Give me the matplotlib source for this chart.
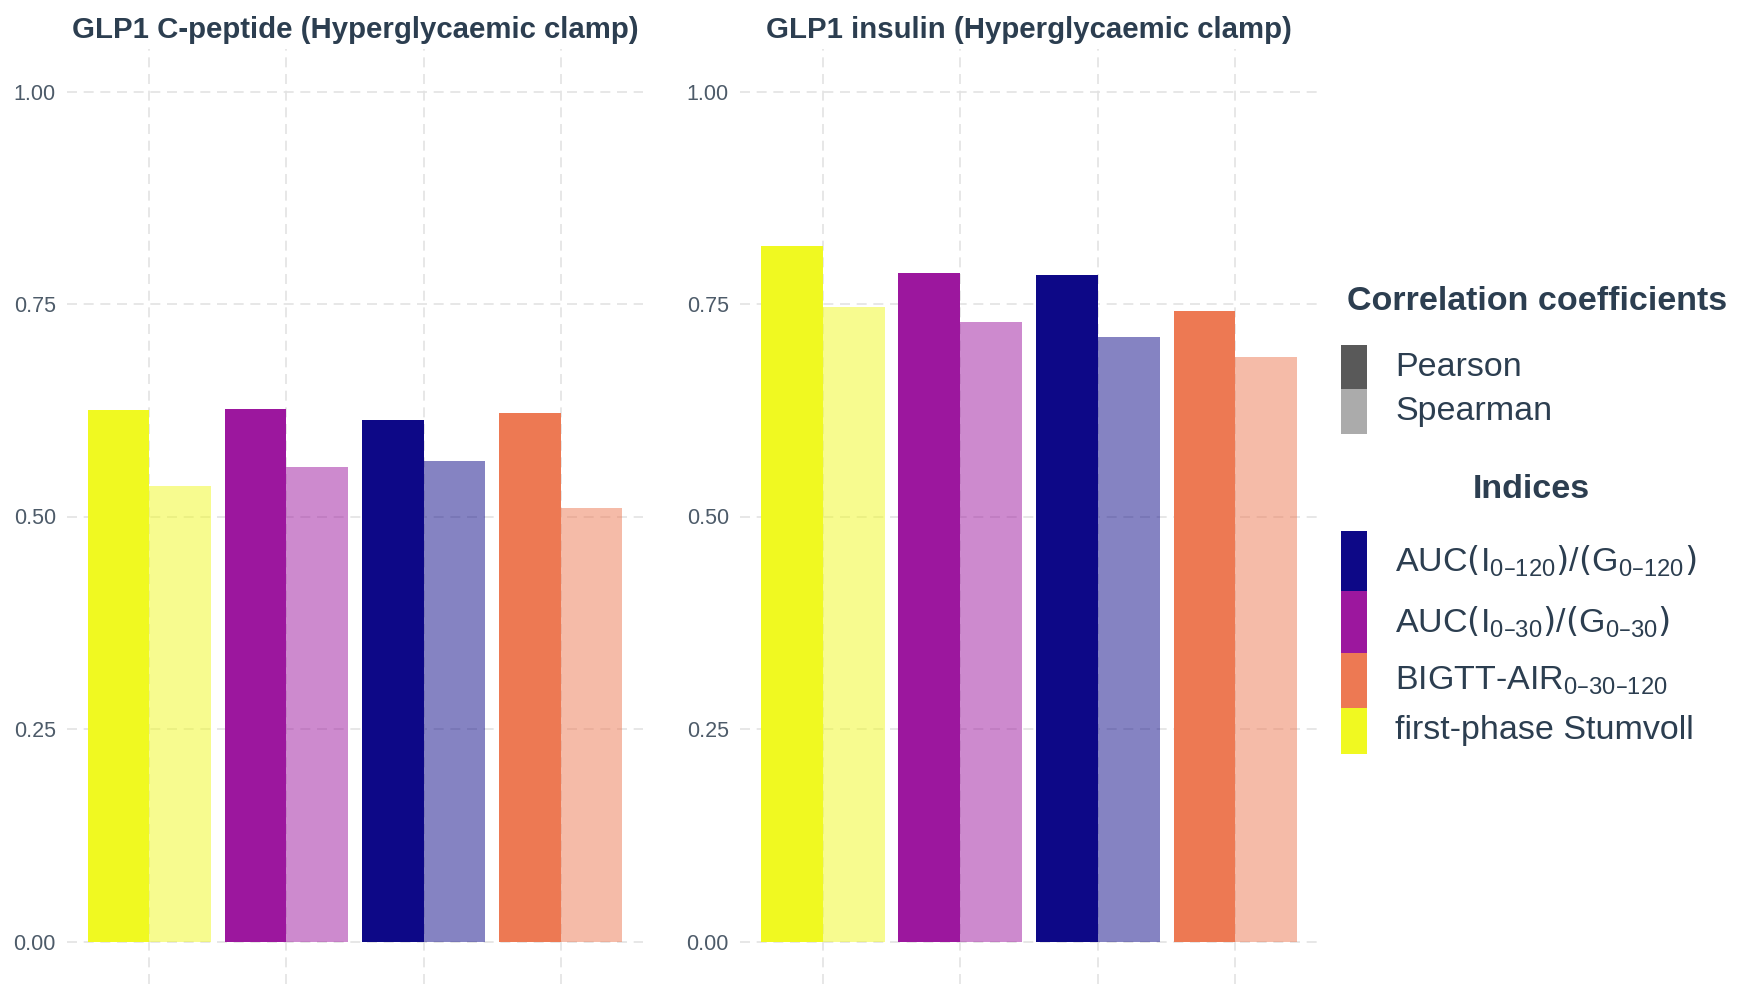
import numpy as np
import matplotlib
matplotlib.use("Agg")
import matplotlib.pyplot as plt
from matplotlib.patches import Rectangle

plt.rcParams['font.family'] = ['Liberation Sans', 'DejaVu Sans']
plt.rcParams['mathtext.default'] = 'regular'

# data
categories = ["first-phase Stumvoll", "AUC 0-30", "AUC 0-120", "BIGTT-AIR"]
colors = ["#F0F921", "#9C179E", "#0D0887", "#ED7953"]
titles = ["GLP1 C-peptide (Hyperglycaemic clamp)", "GLP1 insulin (Hyperglycaemic clamp)"]
cpep_pearson = [0.625, 0.626, 0.613, 0.622]
cpep_spearman = [0.536, 0.558, 0.565, 0.510]
ins_pearson = [0.818, 0.787, 0.784, 0.742]
ins_spearman = [0.746, 0.729, 0.711, 0.688]
yticks = [0.0, 0.25, 0.5, 0.75, 1.0]
ytick_labels = ["0.00", "0.25", "0.50", "0.75", "1.00"]

coef_labels = ["Pearson", "Spearman"]
coef_colors = ["#595959", "#595959"]
index_labels = ["AUC$\\left(I_{0\u2013120}\\right)/\\left(G_{0\u2013120}\\right)$",
                "AUC$\\left(I_{0\u201330}\\right)/\\left(G_{0\u201330}\\right)$",
                "BIGTT-AIR$_{0\u201330\u2013120}$",
                "first-phase Stumvoll"]
index_colors = ["#0D0887", "#9C179E", "#ED7953", "#F0F921"]

W, H = 1743, 989
TXT = "#2C3E50"
TICK = "#4D5B69"
GRID = "#E3E3E3"
ALPHA_S = 0.5
LEG_FS = 24.5

fig = plt.figure(figsize=(W / 100, H / 100), dpi=100)

def px_axes(x0, y0, x1, y1):
    return fig.add_axes([x0 / W, 1 - y1 / H, (x1 - x0) / W, (y1 - y0) / H])

axes = [px_axes(67, 49, 643, 984), px_axes(740, 49, 1318, 984)]
data = [(cpep_pearson, cpep_spearman), (ins_pearson, ins_spearman)]

x = np.arange(1, len(categories) + 1)
w = 0.45
for ax, (pear, spear), title in zip(axes, data, titles):
    ax.bar(x - w / 2, pear, width=w, color=colors, zorder=2)
    ax.bar(x + w / 2, spear, width=w, color=colors, alpha=ALPHA_S, zorder=2)
    ax.set_xlim(0.4, 4.6)
    ax.set_ylim(-0.05, 1.05)
    ax.set_xticks(x)
    ax.set_xticklabels([])
    ax.set_yticks(yticks)
    ax.set_yticklabels(ytick_labels, color=TICK, fontsize=15.5)
    ax.tick_params(length=0, pad=8)
    ax.grid(True, color=GRID, linestyle=(0, (6, 4)), linewidth=1.2, zorder=0)
    for s in ax.spines.values():
        s.set_visible(False)
    ax.set_title(title, fontsize=21.2, fontweight='bold', color=TXT, pad=8)

# legends, drawn in pixel space
def fx(px):
    return px / W

def fy(py):
    return 1 - py / H

fig.text(fx(1347), fy(302), "Correlation coefficients", fontsize=LEG_FS, fontweight='bold',
         color=TXT, ha='left', va='center')
coef_rows = [(345, 389), (389, 434)]
for (top, bot), lab, c, a in zip(coef_rows, coef_labels, coef_colors, [1.0, ALPHA_S]):
    fig.patches.append(Rectangle((fx(1341), fy(bot)), fx(1367) - fx(1341), fy(top) - fy(bot),
                                 transform=fig.transFigure, color=c, alpha=a, lw=0))
    fig.text(fx(1395), fy((top + bot) / 2), lab, fontsize=LEG_FS, color=TXT, ha='left', va='center')

fig.text(fx(1531), fy(490), "Indices", fontsize=LEG_FS, fontweight='bold', color=TXT,
         ha='center', va='center')
index_rows = [(531, 591), (591, 653), (653, 708), (708, 754)]
for (top, bot), lab, c in zip(index_rows, index_labels, index_colors):
    fig.patches.append(Rectangle((fx(1341), fy(bot)), fx(1367) - fx(1341), fy(top) - fy(bot),
                                 transform=fig.transFigure, color=c, lw=0))
    fig.text(fx(1395), fy((top + bot) / 2), lab, fontsize=LEG_FS, color=TXT, ha='left', va='center')

fig.savefig("out.png", dpi=100, facecolor="white")
